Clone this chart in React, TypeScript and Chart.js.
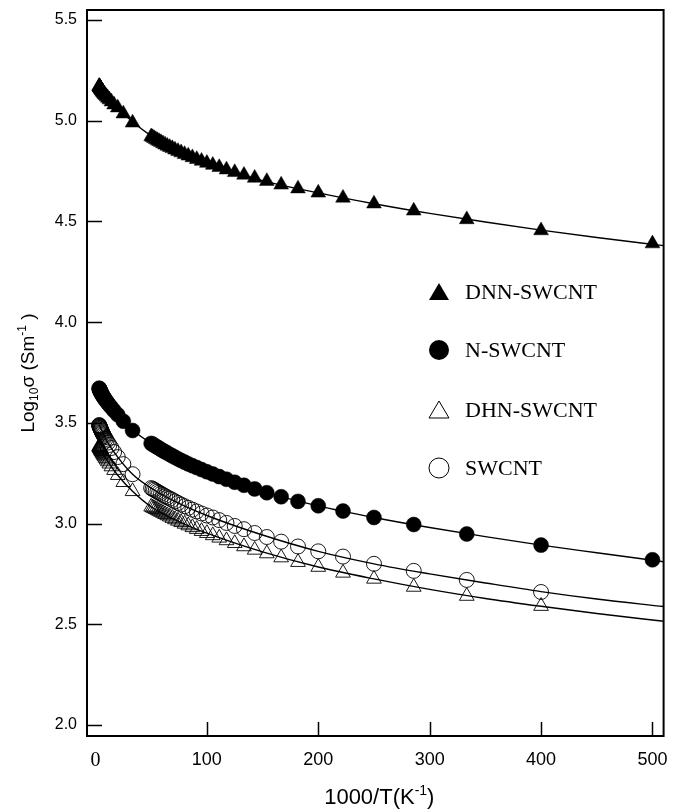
import React, { useEffect, useRef } from "react";
import { Chart, registerables } from "chart.js";
Chart.register(...registerables);

// 1000/T values: T = 2 ... 20 K (0.5 K steps) and T = 30 ... 300 K (10 K steps)
const X_HIGH = [500, 400, 333.3, 285.7, 250, 222.2, 200, 181.8, 166.7, 153.8, 142.9, 133.3, 125, 117.6, 111.1, 105.3, 100, 95.2, 90.9, 87.0, 83.3, 80, 76.9, 74.1, 71.4, 69.0, 66.7, 64.5, 62.5, 60.6, 58.8, 57.1, 55.6, 54.1, 52.6, 51.3, 50];
const X_HIGH_NO2K = X_HIGH.slice(1);
const X_LOW = [33.3, 25, 20, 16.7, 14.3, 12.5, 11.1, 10, 9.09, 8.33, 7.69, 7.14, 6.67, 6.25, 5.88, 5.56, 5.26, 5.0, 4.76, 4.55, 4.35, 4.17, 4.0, 3.85, 3.70, 3.57, 3.45, 3.33];

const DNN_Y_HIGH = [4.39, 4.455, 4.51, 4.553, 4.588, 4.617, 4.642, 4.663, 4.682, 4.70, 4.716, 4.731, 4.744, 4.757, 4.769, 4.78, 4.79, 4.80, 4.809, 4.818, 4.826, 4.834, 4.842, 4.849, 4.856, 4.863, 4.869, 4.875, 4.881, 4.887, 4.893, 4.898, 4.903, 4.908, 4.913, 4.918, 4.922];
const DNN_Y_LOW = [4.99, 5.035, 5.065, 5.08, 5.095, 5.105, 5.113, 5.12, 5.126, 5.131, 5.135, 5.139, 5.143, 5.146, 5.149, 5.152, 5.155, 5.157, 5.159, 5.161, 5.163, 5.165, 5.166, 5.168, 5.169, 5.17, 5.171, 5.172];

const N_Y_HIGH = [2.82, 2.893, 2.948, 2.995, 3.03, 3.062, 3.088, 3.11, 3.133, 3.153, 3.172, 3.19, 3.205, 3.22, 3.233, 3.246, 3.257, 3.268, 3.278, 3.287, 3.296, 3.305, 3.313, 3.321, 3.329, 3.336, 3.343, 3.35, 3.356, 3.362, 3.368, 3.374, 3.379, 3.384, 3.389, 3.394, 3.398];
const N_Y_LOW = [3.462, 3.508, 3.54, 3.56, 3.576, 3.588, 3.598, 3.606, 3.613, 3.619, 3.624, 3.629, 3.633, 3.637, 3.641, 3.644, 3.647, 3.65, 3.653, 3.655, 3.658, 3.66, 3.662, 3.664, 3.666, 3.668, 3.67, 3.672];

const DHN_Y_HIGH = [2.59, 2.64, 2.685, 2.725, 2.755, 2.784, 2.808, 2.831, 2.851, 2.869, 2.886, 2.902, 2.916, 2.929, 2.941, 2.952, 2.962, 2.972, 2.981, 2.99, 2.998, 3.006, 3.013, 3.02, 3.027, 3.034, 3.04, 3.046, 3.052, 3.057, 3.062, 3.067, 3.071, 3.075, 3.079, 3.083];
const DHN_Y_LOW = [3.16, 3.205, 3.24, 3.265, 3.283, 3.297, 3.308, 3.317, 3.325, 3.332, 3.338, 3.343, 3.348, 3.352, 3.356, 3.359, 3.362, 3.365, 3.367, 3.37, 3.372, 3.374, 3.376, 3.377, 3.379, 3.38, 3.382, 3.383];

const SW_Y_HIGH = [2.66, 2.72, 2.765, 2.80, 2.836, 2.862, 2.886, 2.91, 2.933, 2.953, 2.972, 2.988, 3.003, 3.017, 3.03, 3.04, 3.05, 3.06, 3.069, 3.078, 3.086, 3.094, 3.102, 3.11, 3.117, 3.124, 3.13, 3.136, 3.142, 3.148, 3.153, 3.158, 3.163, 3.168, 3.172, 3.176];
const SW_Y_LOW = [3.245, 3.295, 3.33, 3.355, 3.375, 3.39, 3.402, 3.412, 3.42, 3.428, 3.434, 3.44, 3.445, 3.45, 3.454, 3.458, 3.462, 3.465, 3.468, 3.471, 3.474, 3.476, 3.479, 3.481, 3.483, 3.485, 3.487, 3.489];

// fitted curves
const FIT_X = [3.3, 10, 20, 33.3, 50, 75, 100, 150, 200, 250, 300, 350, 400, 450, 510];
const DNN_FIT = [5.175, 5.122, 5.062, 4.995, 4.925, 4.845, 4.792, 4.703, 4.642, 4.588, 4.54, 4.497, 4.457, 4.42, 4.38];
const N_FIT = [3.676, 3.607, 3.54, 3.464, 3.398, 3.318, 3.257, 3.16, 3.088, 3.03, 2.98, 2.935, 2.893, 2.855, 2.81];
const SW_FIT = [3.49, 3.412, 3.33, 3.245, 3.176, 3.10, 3.04, 2.943, 2.862, 2.80, 2.75, 2.705, 2.662, 2.625, 2.588];
const DHN_FIT = [3.384, 3.317, 3.24, 3.16, 3.083, 3.01, 2.952, 2.859, 2.784, 2.725, 2.673, 2.628, 2.589, 2.553, 2.515];

const SERIES_NAMES = ["DNN-SWCNT", "N-SWCNT", "DHN-SWCNT", "SWCNT"];
const X_TICKS = [0, 100, 200, 300, 400, 500];
const Y_TICKS = [2.0, 2.5, 3.0, 3.5, 4.0, 4.5, 5.0, 5.5];

const pts = (xs: number[], ys: number[]) => xs.map((x, i) => ({ x, y: ys[i] }));

type Piece = { t: string; s: number; dy: number };
function drawRich(ctx: CanvasRenderingContext2D, pieces: Piece[], family: string, cx: number, baseY: number) {
  let total = 0;
  const widths = pieces.map((p) => {
    ctx.font = `${p.s}px ${family}`;
    const w = ctx.measureText(p.t).width;
    total += w;
    return w;
  });
  let x = cx - total / 2;
  ctx.textAlign = "left";
  ctx.textBaseline = "alphabetic";
  pieces.forEach((p, i) => {
    ctx.font = `${p.s}px ${family}`;
    ctx.fillText(p.t, x, baseY + p.dy);
    x += widths[i];
  });
}

const decoPlugin = {
  id: "deco",
  afterDraw(chart: any) {
    const { ctx, chartArea: a, scales } = chart;
    ctx.save();
    ctx.strokeStyle = "#000";
    ctx.fillStyle = "#000";
    ctx.lineWidth = 2;
    ctx.strokeRect(a.left, a.top, a.right - a.left, a.bottom - a.top);
    ctx.lineWidth = 1.5;
    ctx.beginPath();
    for (const v of Y_TICKS) {
      const y = Math.round(scales.y.getPixelForValue(v)) + 0.5;
      ctx.moveTo(a.left, y);
      ctx.lineTo(a.left + 15, y);
    }
    for (const v of X_TICKS) {
      if (v === 0) continue;
      const x = Math.round(scales.x.getPixelForValue(v)) + 0.5;
      ctx.moveTo(x, a.bottom);
      ctx.lineTo(x, a.bottom - 14);
    }
    ctx.stroke();

    // x title
    const sans = "'Liberation Sans', Arial, sans-serif";
    drawRich(
      ctx,
      [
        { t: "1000/T(K", s: 22, dy: 0 },
        { t: "-1", s: 14, dy: -9 },
        { t: ")", s: 22, dy: 0 },
      ],
      sans,
      (a.left + a.right) / 2 + 4,
      804
    );
    // y title
    ctx.save();
    ctx.translate(34, (a.top + a.bottom) / 2);
    ctx.rotate(-Math.PI / 2);
    drawRich(
      ctx,
      [
        { t: "Log", s: 19, dy: 0 },
        { t: "10", s: 12, dy: 4 },
        { t: "\u03c3 (Sm", s: 19, dy: 0 },
        { t: "-1", s: 12, dy: -8 },
        { t: " )", s: 19, dy: 0 },
      ],
      sans,
      0,
      0
    );
    ctx.restore();

    // legend
    const lx = 439;
    const rows = [292, 350, 410, 468];
    const serif = "'Liberation Serif', 'Times New Roman', serif";
    ctx.lineWidth = 1;
    rows.forEach((ry, i) => {
      ctx.beginPath();
      if (i === 0 || i === 2) {
        ctx.moveTo(lx, ry - 9);
        ctx.lineTo(lx + 10, ry + 8);
        ctx.lineTo(lx - 10, ry + 8);
        ctx.closePath();
      } else {
        ctx.arc(lx, ry, 10, 0, Math.PI * 2);
      }
      if (i < 2) ctx.fill();
      else ctx.stroke();
      ctx.font = `22px ${serif}`;
      ctx.textAlign = "left";
      ctx.textBaseline = "middle";
      ctx.fillText(SERIES_NAMES[i], 465, ry + 1);
    });
    ctx.restore();
  },
};

export default function App() {
  const ref = useRef<HTMLCanvasElement | null>(null);
  useEffect(() => {
    if (!ref.current) return;
    const marker = (label: string, data: any[], style: string, filled: boolean, r: number) => ({
      type: "scatter" as const,
      label,
      data,
      pointStyle: style,
      pointRadius: r,
      pointBackgroundColor: filled ? "#000" : "rgba(0,0,0,0)",
      pointBorderColor: "#000",
      pointBorderWidth: filled ? 0.5 : 0.9,
      showLine: false,
    });
    const fit = (data: any[]) => ({
      type: "line" as const,
      data,
      showLine: true,
      pointRadius: 0,
      borderColor: "#000",
      borderWidth: 1.4,
      cubicInterpolationMode: "monotone" as const,
      fill: false,
    });
    const chart = new Chart(ref.current, {
      type: "scatter",
      data: {
        datasets: [
          marker(SERIES_NAMES[0], pts([...X_HIGH, ...X_LOW], [...DNN_Y_HIGH, ...DNN_Y_LOW]), "triangle", true, 8.5),
          marker(SERIES_NAMES[1], pts([...X_HIGH, ...X_LOW], [...N_Y_HIGH, ...N_Y_LOW]), "circle", true, 7.5),
          marker(SERIES_NAMES[2], pts([...X_HIGH_NO2K, ...X_LOW], [...DHN_Y_HIGH, ...DHN_Y_LOW]), "triangle", false, 8.5),
          marker(SERIES_NAMES[3], pts([...X_HIGH_NO2K, ...X_LOW], [...SW_Y_HIGH, ...SW_Y_LOW]), "circle", false, 7.5),
          fit(pts(FIT_X, DNN_FIT)),
          fit(pts(FIT_X, N_FIT)),
          fit(pts(FIT_X, DHN_FIT)),
          fit(pts(FIT_X, SW_FIT)),
        ] as any,
      },
      options: {
        animation: false,
        responsive: false,
        layout: { padding: { left: 0, top: 10, right: 9, bottom: 0 } },
        plugins: { legend: { display: false }, tooltip: { enabled: false } },
        scales: {
          x: {
            type: "linear",
            min: -7.6,
            max: 510,
            grid: { display: false, drawTicks: false },
            border: { display: false },
            afterBuildTicks: (s: any) => {
              s.ticks = X_TICKS.map((v) => ({ value: v }));
            },
            afterFit: (s: any) => {
              s.height = 73;
              s.paddingLeft = 0;
              s.paddingRight = 0;
            },
            ticks: {
              padding: 13,
              color: "#000",
              maxRotation: 0,
              autoSkip: false,
              callback: (v: any) => String(v),
              font: (c: any) =>
                c.tick && c.tick.value === 0
                  ? { family: "'Liberation Serif', serif", size: 20 }
                  : { family: "'Liberation Sans', Arial, sans-serif", size: 18 },
            },
          },
          y: {
            type: "linear",
            min: 1.945,
            max: 5.55,
            grid: { display: false, drawTicks: false },
            border: { display: false },
            afterBuildTicks: (s: any) => {
              s.ticks = Y_TICKS.map((v) => ({ value: v }));
            },
            afterFit: (s: any) => {
              s.width = 87;
              s.paddingTop = 0;
              s.paddingBottom = 0;
            },
            ticks: {
              padding: 10,
              color: "#000",
              autoSkip: false,
              callback: (v: any) => Number(v).toFixed(1),
              font: { family: "'Liberation Sans', Arial, sans-serif", size: 16 },
            },
          },
        },
      },
      plugins: [decoPlugin],
    });
    return () => chart.destroy();
  }, []);
  return (
    <div style={{ position: "fixed", left: 0, top: 0, width: 673, height: 809, background: "#fff" }}>
      <canvas ref={ref} width={673} height={809} style={{ width: 673, height: 809, display: "block" }} />
    </div>
  );
}
